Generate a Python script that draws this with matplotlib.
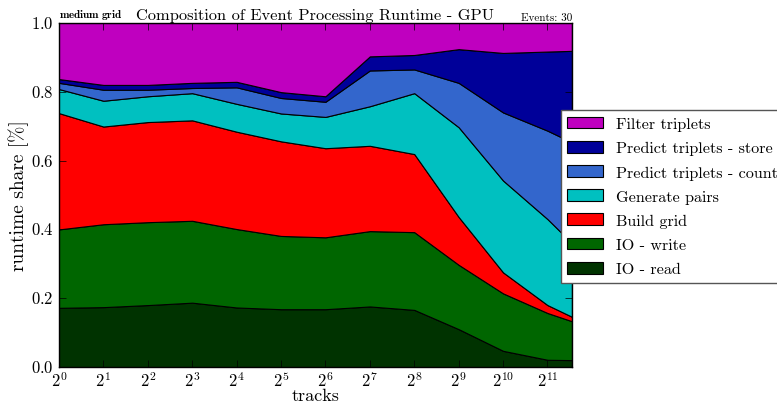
import numpy as np
import matplotlib
matplotlib.use('Agg')
import matplotlib.pyplot as plt

plt.style.use('classic')
plt.rcParams['font.family'] = ['cmr10', 'DejaVu Serif']
plt.rcParams['mathtext.fontset'] = 'cm'
plt.rcParams['axes.unicode_minus'] = False
plt.rcParams['axes.formatter.use_mathtext'] = True

# number of tracks (x axis)
tracks = [1, 2, 4, 8, 16, 32, 64, 128, 256, 512, 1024, 2048, 3000]

# stacked shares (cumulative tops converted to layers)
io_read_top = [0.172, 0.174, 0.180, 0.187, 0.173, 0.168, 0.168, 0.176, 0.166, 0.110, 0.047, 0.021, 0.020]
io_write_top = [0.400, 0.415, 0.421, 0.425, 0.401, 0.381, 0.377, 0.395, 0.392, 0.297, 0.214, 0.157, 0.133]
build_top = [0.738, 0.699, 0.712, 0.717, 0.684, 0.656, 0.636, 0.643, 0.619, 0.436, 0.275, 0.180, 0.146]
pairs_top = [0.808, 0.774, 0.787, 0.796, 0.765, 0.737, 0.727, 0.758, 0.796, 0.697, 0.542, 0.430, 0.360]
count_top = [0.826, 0.806, 0.806, 0.811, 0.813, 0.782, 0.771, 0.862, 0.865, 0.826, 0.740, 0.687, 0.653]
store_top = [0.837, 0.820, 0.820, 0.826, 0.829, 0.799, 0.787, 0.903, 0.907, 0.924, 0.913, 0.917, 0.919]

labels = ['IO - read', 'IO - write', 'Build grid', 'Generate pairs',
          'Predict triplets - count', 'Predict triplets - store', 'Filter triplets']
colors = ['#003300', '#006600', '#ff0000', '#00c0c0', '#3366cc', '#000099', '#bf00bf']

tops = np.array([io_read_top, io_write_top, build_top, pairs_top, count_top, store_top,
                 [1.0] * len(tracks)])
layers = np.diff(np.vstack([np.zeros(len(tracks)), tops]), axis=0)

fig = plt.figure(figsize=(7.77, 4.06), dpi=100, facecolor='white')
ax = fig.add_axes([0.0759, 0.0936, 0.6602, 0.8473])
polys = ax.stackplot(tracks, layers, colors=colors, labels=labels,
                     edgecolor='black', linewidth=0.8)

ax.set_xscale('log', base=2)
ax.set_xlim(1, 3000)
ax.set_ylim(0, 1)
ax.set_xticks([2 ** i for i in range(12)])
ax.set_xticklabels([r'$2^{%d}$' % i for i in range(12)])
ax.minorticks_off()
ax.set_yticks([0.0, 0.2, 0.4, 0.6, 0.8, 1.0])
ax.tick_params(labelsize=12, direction='in', length=5)
ax.tick_params(axis='x', pad=2)
ax.set_xlabel('tracks', fontsize=13, labelpad=-1)
ax.set_ylabel('runtime share [%]', fontsize=14, labelpad=1)
ax.set_title('Composition of Event Processing Runtime - GPU', fontsize=11.8, pad=3)
ax.text(0, 1.006, r'$\mathbf{medium\ grid}$', transform=ax.transAxes, fontsize=8,
        ha='left', va='bottom')
ax.text(1, 1.004, 'Events: 30', transform=ax.transAxes, fontsize=8,
        ha='right', va='bottom')

handles, labs = ax.get_legend_handles_labels()
leg = fig.legend(handles[::-1], labs[::-1], loc='upper left',
                 bbox_to_anchor=(0.722, 0.726), fontsize=11.6,
                 frameon=True, fancybox=False, borderaxespad=0,
                 handlelength=2.2, handleheight=0.75, labelspacing=0.6,
                 handletextpad=0.8)
leg.get_frame().set_edgecolor('#555555')

fig.savefig('out.png', dpi=100, facecolor='white')
